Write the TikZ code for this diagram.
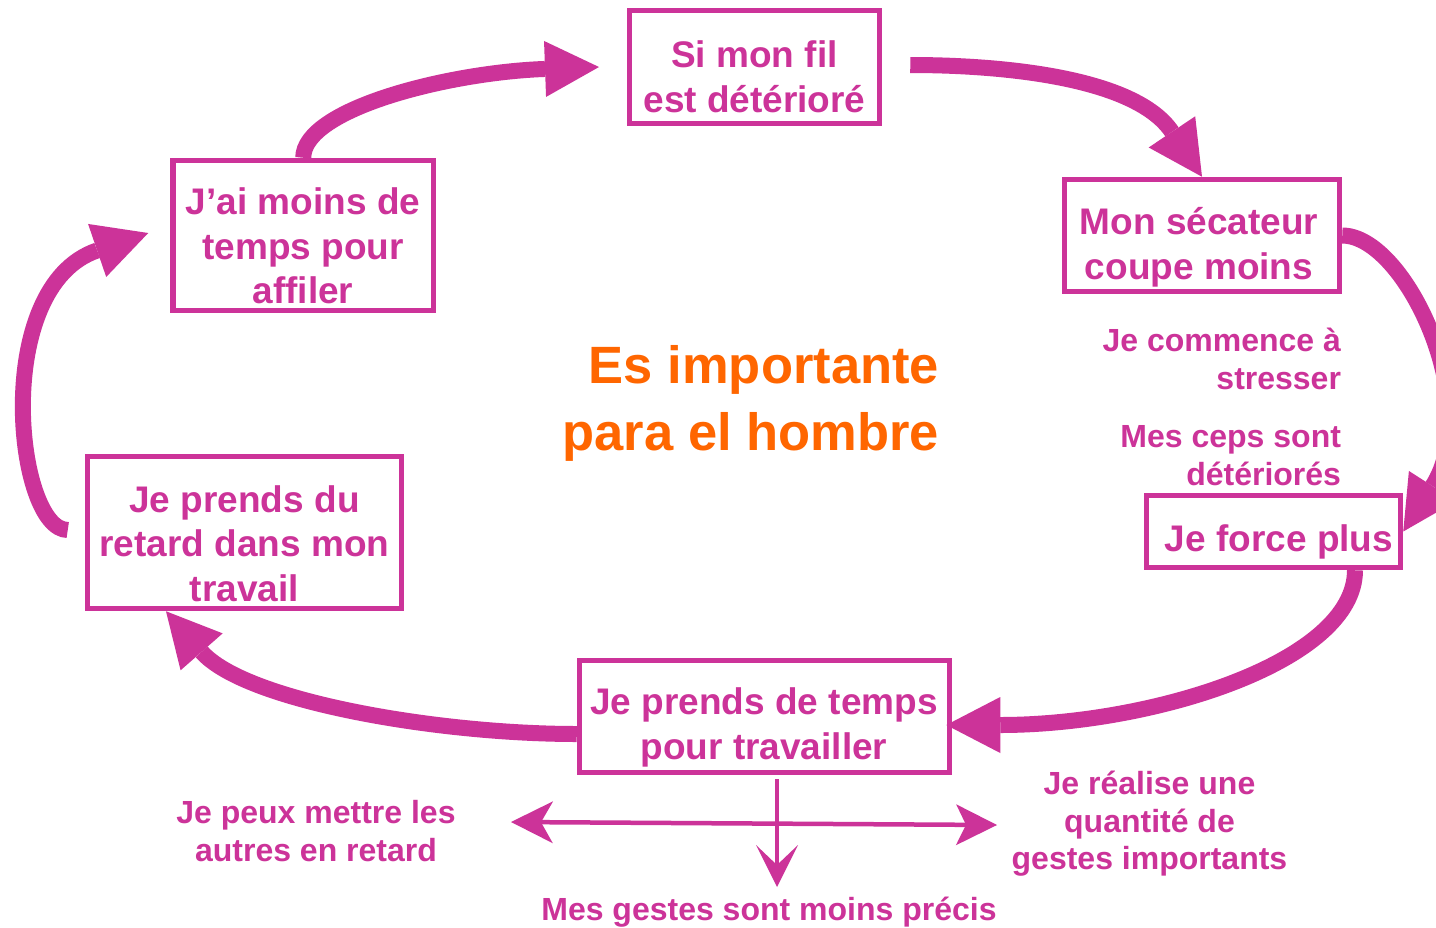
\documentclass[tikz,border=0pt]{standalone}
\usepackage{fontspec}
\setmainfont{Liberation Sans}
\usetikzlibrary{arrows.meta}
\definecolor{mag}{RGB}{204,51,153}
\definecolor{org}{RGB}{255,102,0}
\tikzset{
  box/.style={draw=mag, line width=5.5pt, rectangle, inner sep=0pt},
  boxtxt/.style={font=\fontsize{37}{44.5}\selectfont\bfseries, text=mag, align=center, anchor=north, inner sep=0pt, outer sep=0pt},
  smalltxt/.style={font=\fontsize{32}{37.7}\selectfont\bfseries, text=mag, inner sep=0pt, outer sep=0pt},
  bigtxt/.style={font=\fontsize{52.5}{67}\selectfont\bfseries, text=org, align=right, anchor=north east, inner sep=0pt, outer sep=0pt},
  bigarrow/.style={draw=mag, line width=16pt, -{Triangle[length=54pt,width=56pt,line width=0pt]}},
  thinarrow/.style={draw=mag, line width=4.5pt},
}
\begin{document}
\begin{tikzpicture}[x=1pt,y=-1pt]
\useasboundingbox (0,0) rectangle (1436,927);
\fill[white] (0,0) rectangle (1436,927);

% boxes
\node[box, minimum width=250pt, minimum height=113pt] (bfil) at (754.5,67) {};
\node[box, minimum width=275pt, minimum height=112pt] (bsec) at (1202,235.5) {};
\node[box, minimum width=254pt, minimum height=72pt] (bforce) at (1273.5,531.5) {};
\node[box, minimum width=370pt, minimum height=112pt] (btemps) at (764.5,716.5) {};
\node[box, minimum width=314pt, minimum height=152pt] (bretard) at (244.5,532.5) {};
\node[box, minimum width=260.5pt, minimum height=150pt] (bjai) at (303.25,235.5) {};

% box texts
\node[boxtxt] (tfil) at (754.5,36.5) {\strut Si mon fil\\est détérioré};
\node[boxtxt] (tsec) at (1199,203.5) {\strut Mon sécateur\\coupe moins};
\node[boxtxt] (tforce) at (1279,520.5) {\strut Je force plus};
\node[boxtxt] (ttemps) at (764,683.5) {\strut Je prends de temps\\pour travailler};
\node[boxtxt] (tretard) at (244.5,481) {\strut Je prends du\\retard dans mon\\travail};
\node[boxtxt] (tjai) at (303,183.5) {\strut J’ai moins de\\temps pour\\affiler};

% free texts
\node[smalltxt, align=right, anchor=north east] (tstress) at (1341,325) {\strut Je commence à\\stresser};
\node[smalltxt, align=right, anchor=north east] (tceps) at (1341,421) {\strut Mes ceps sont\\détériorés};
\node[smalltxt, align=center, anchor=north] (tautres) at (316,797) {\strut Je peux mettre les\\autres en retard};
\node[smalltxt, align=center, anchor=north] (tquant) at (1149.5,768) {\strut Je réalise une\\quantité de\\gestes importants};
\node[smalltxt, align=center, anchor=north] (tgestes) at (769,894) {\strut Mes gestes sont moins précis};

\node[bigtxt] (tcenter) at (939,337) {\strut Es importante\\para el hombre};

% cycle arrows
\draw[bigarrow] (bjai.north) .. controls +(0,-49) and +(-150,5.4) .. ([xshift=-27.75pt]bfil.west);
\draw[bigarrow] ([xshift=28pt,yshift=2pt]bfil.east) .. controls +(90,0) and +(-67,-100) .. (bsec.north);
\draw[bigarrow] (bsec.east) .. controls +(63,0) and +(81,-126) .. (bforce.east);
\draw[bigarrow] ([xshift=81.5pt]bforce.south) .. controls +(0,92) and +(205,0) .. ([xshift=-6pt,yshift=-8.5pt]btemps.east);
\draw[bigarrow] ([yshift=-17.5pt]btemps.west) .. controls +(-139,0) and +(79,90) .. ([xshift=-78.5pt]bretard.south);
\draw[bigarrow] ([xshift=-17pt,yshift=2.5pt]bretard.west) .. controls +(-52,0) and +(-158,54) .. ([xshift=-22pt,yshift=2.5pt]bjai.west);

% thin arrows
\coordinate (hl) at (511,822);
\coordinate (hr) at (997,825);
\draw[thinarrow, {Stealth[length=42pt,width=42pt,inset=12pt,line width=0pt]}-{Stealth[length=41pt,width=41pt,inset=10pt,line width=0pt]}] (hl) -- (hr);
\draw[thinarrow, -{Stealth[length=42pt,width=42pt,inset=20pt,line width=0pt]}] ([xshift=12.5pt,yshift=-4pt]btemps.south) -- ([xshift=8pt,yshift=7pt]tgestes.north);
\end{tikzpicture}
\end{document}
